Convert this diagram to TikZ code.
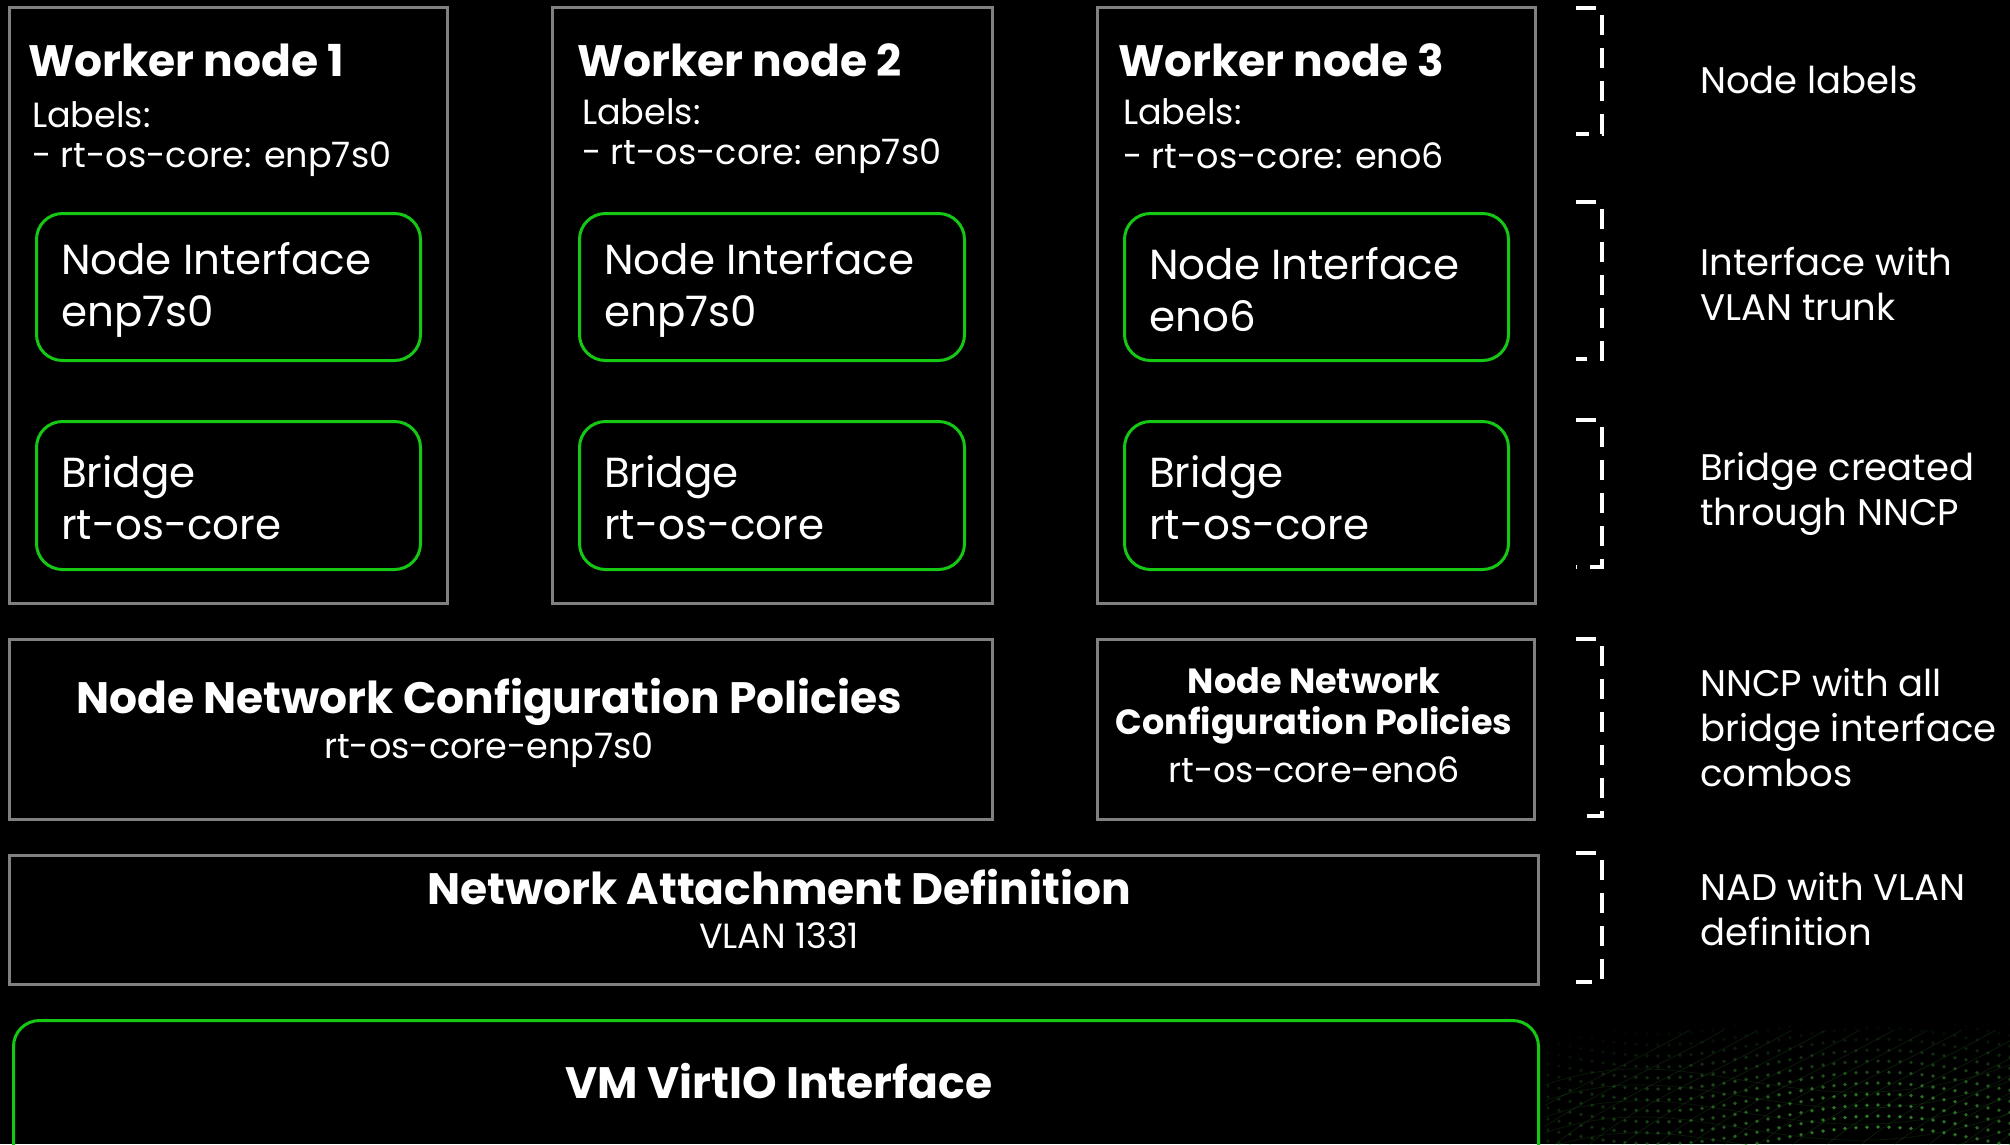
\documentclass[tikz,border=0pt]{standalone}
\usepackage{fontspec}
\setmainfont{Poppins}
\definecolor{boxgray}{RGB}{128,128,128}
\definecolor{ngreen}{RGB}{20,200,20}
\definecolor{dotgreen}{RGB}{70,180,60}
\begin{document}
\begin{tikzpicture}[x=1pt,y=-1pt,
  frame/.style={draw=boxgray, line width=2.5pt, anchor=north west, inner sep=0pt},
  gbox/.style={draw=ngreen, line width=3pt, rounded corners=26pt, anchor=north west, inner sep=0pt},
  brk/.style={draw=white, line width=4pt, dash pattern=on 20pt off 13pt},
  txt/.style={text=white, inner sep=0pt},
  ttl/.style={txt, font=\fontsize{44}{50}\selectfont\bfseries},
  sub/.style={txt, font=\fontsize{35}{44}\selectfont},
  inl/.style={txt, font=\fontsize{42}{52}\selectfont, align=left, anchor=west},
  side/.style={txt, font=\fontsize{37}{45}\selectfont, align=left, anchor=west},
]
% background
\fill[black] (0,0) rectangle (2010,1144);
\useasboundingbox (0,0) rectangle (2010,1144);
\clip (0,0) rectangle (2010,1144);

% faint mesh texture in the lower right corner
\begin{scope}
\clip (1545,1000) rectangle (2010,1144);
\foreach \k in {0,...,16}{
  \draw[dotgreen, line width=0.8pt, opacity=0.15]
    (1480+\k*34,1150) .. controls (1540+\k*34,1100) and (1600+\k*34,1080) .. (1690+\k*34,1030);
}
\foreach \k in {0,...,4}{
  \draw[dotgreen, line width=0.8pt, opacity=0.13]
    (1545,1085+\k*16) .. controls (1700,1030+\k*16) and (1800,1140+\k*16) .. (2010,1065+\k*16);
}
\foreach \i in {0,...,42}{
  \foreach \j in {0,...,11}{
    \pgfmathsetmacro{\px}{1548+\i*11}
    \pgfmathsetmacro{\py}{1020+\j*11+14*sin(\i*9)}
    \pgfmathsetmacro{\op}{max(0,1-veclen(\px-1880,1.7*(\py-1135))/430)*0.75*min(1,max(0,(\py-1020)/70))}
    \fill[dotgreen, opacity=\op] (\px,\py) circle (1.9);
  }
}
\end{scope}

% worker nodes
\node[frame, minimum width=438pt, minimum height=596pt] (w1) at (8,6) {};
\node[frame, minimum width=440pt, minimum height=596pt] (w2) at (551,6) {};
\node[frame, minimum width=438pt, minimum height=596pt] (w3) at (1096,6) {};

\node[ttl, anchor=west] (t1) at (28,60) {Worker node 1};
\node[ttl, anchor=west] (t2) at (577,60) {Worker node 2};
\node[ttl, anchor=west] (t3) at (1118,60) {Worker node 3};

\node[sub, anchor=west] (l1a) at (32,115) {Labels:};
\node[sub, anchor=west] (l1b) at (32,159) {- rt-os-core: enp7s0};
\node[sub, anchor=west] (l2a) at (582,112) {Labels:};
\node[sub, anchor=west] (l2b) at (582,156) {- rt-os-core: enp7s0};
\node[sub, anchor=west] (l3a) at (1123,112) {Labels:};
\node[sub, anchor=west] (l3b) at (1123,156) {- rt-os-core: eno6};

% interfaces and bridges
\node[gbox, minimum width=384pt, minimum height=147pt] (i1) at (35,212) {};
\node[gbox, minimum width=385pt, minimum height=147pt] (i2) at (578,212) {};
\node[gbox, minimum width=384pt, minimum height=147pt] (i3) at (1123,212) {};
\node[gbox, minimum width=384pt, minimum height=148pt] (b1) at (35,420) {};
\node[gbox, minimum width=385pt, minimum height=148pt] (b2) at (578,420) {};
\node[gbox, minimum width=384pt, minimum height=148pt] (b3) at (1123,420) {};

\node[inl] (i1t) at ([xshift=26pt,yshift=-3pt]i1.west) {Node Interface\\enp7s0};
\node[inl] (i2t) at ([xshift=26pt,yshift=-3pt]i2.west) {Node Interface\\enp7s0};
\node[inl] (i3t) at ([xshift=26pt,yshift=-3pt]i3.west) {Node Interface\\eno6};
\node[inl] (b1t) at ([xshift=26pt,yshift=-2pt]b1.west) {Bridge\\rt-os-core};
\node[inl] (b2t) at ([xshift=26pt,yshift=-2pt]b2.west) {Bridge\\rt-os-core};
\node[inl] (b3t) at ([xshift=26pt,yshift=-2pt]b3.west) {Bridge\\rt-os-core};

% policies
\node[frame, minimum width=983pt, minimum height=180pt] (p1) at (8,638) {};
\node[frame, minimum width=437pt, minimum height=180pt] (p2) at (1096,638) {};
\node[ttl] (p1t) at (489,702) {Node Network Configuration Policies};
\node[sub] (p1s) at (489,750) {rt-os-core-enp7s0};
\node[txt, font=\fontsize{35}{41}\selectfont\bfseries, align=center] (p2t) at (1314,706) {Node Network\\Configuration Policies};
\node[sub] (p2s) at (1314,770) {rt-os-core-eno6};

% attachment definition
\node[frame, minimum width=1529pt, minimum height=129pt] (nad) at (8,854) {};
\node[ttl] (nadt) at (779,887) {Network Attachment Definition};
\node[sub] (nads) at (779,936) {VLAN 1331};

% VM interface
\node[gbox, minimum width=1525pt, minimum height=160pt] (vm) at (12,1019) {};
\node[ttl] (vmt) at (779,1081) {VM VirtIO Interface};

% side brackets
\draw[brk] (1576,8) -- (1602,8) -- (1602,134) -- (1576,134);
\draw[brk] (1576,202) -- (1602,202) -- (1602,359) -- (1576,359);
\draw[brk] (1576,420) -- (1602,420) -- (1602,567) -- (1576,567);
\draw[brk] (1576,639) -- (1602,639) -- (1602,816) -- (1576,816);
\draw[brk] (1576,853) -- (1602,853) -- (1602,982) -- (1576,982);

% side notes
\node[side] (n1) at (1700,80) {Node labels};
\node[side] (n2) at (1700,284) {Interface with\\VLAN trunk};
\node[side] (n3) at (1700,494) {Bridge created\\through NNCP};
\node[side] (n4) at (1700,728) {NNCP with all\\bridge interface\\combos};
\node[side] (n5) at (1700,909) {NAD with VLAN\\definition};
\end{tikzpicture}
\end{document}
